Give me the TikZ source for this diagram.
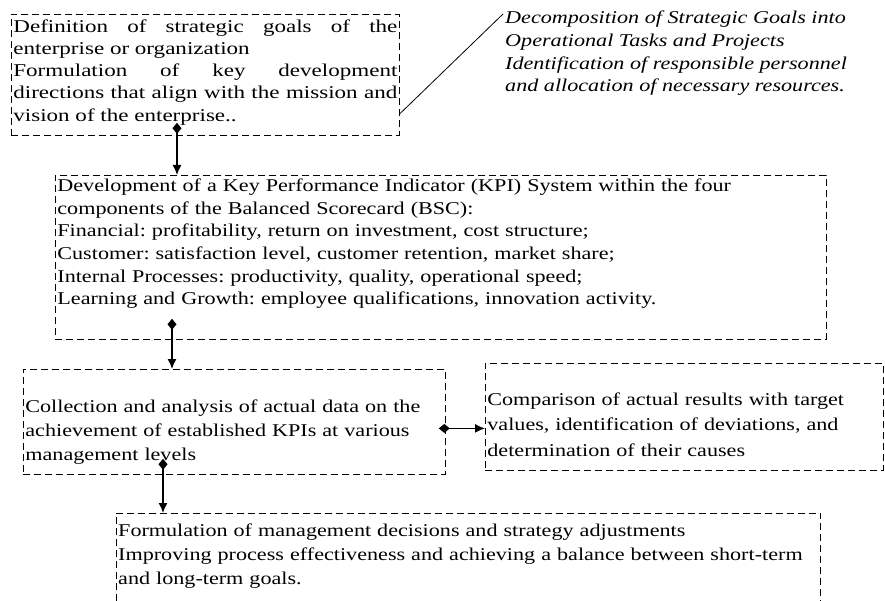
\documentclass[tikz,border=0pt]{standalone}
\usepackage{fontspec}
\setmainfont{Liberation Serif}[FakeStretch=1.23]
\newfontfamily\goalsfont{Liberation Serif}[FakeStretch=1.28]
\usetikzlibrary{arrows.meta}

\tikzset{
	box/.style={draw, dash pattern=on 7pt off 4pt, line width=0.8pt, anchor=north west, inner sep=2pt, align=left},
	link/.style={line width=1.4pt, {Diamond[length=11pt,width=9pt]}-{Latex[length=10pt,width=9pt]}}
}

\begin{document}
\frenchspacing
\begin{tikzpicture}[x=1pt, y=-1pt, font=\fontsize{18}{22.7}\selectfont]
	\useasboundingbox (0,0) rectangle (885,601);
	% Strategic Goals %
	\node (goals) [box, align=justify, text width=384pt, text height=16pt, text depth=101pt, font=\fontsize{18}{22.2}\goalsfont] at (11,14) {Definition of strategic goals of the\linebreak
		enterprise or organization\\
		Formulation of key development\linebreak
		directions that align with the mission and\linebreak
		vision of the enterprise..};
	\node (decomp) [anchor=north west, align=left, inner sep=2pt, font=\fontsize{18}{22.7}\selectfont\itshape] at (503,9) {Decomposition of Strategic Goals into\\
		Operational Tasks and Projects\\
		Identification of responsible personnel\\
		and allocation of necessary resources.};
	\draw [line width=0.8pt] ([yshift=22pt]goals.south east) -- ([yshift=-5pt]decomp.north west);
	% KPI System %
	\node (kpi) [box, text width=767pt, text height=14pt, text depth=146pt] at (55,175) {Development of a Key Performance Indicator (KPI) System within the four\\
		components of the Balanced Scorecard (BSC):\\
		Financial: profitability, return on investment, cost structure;\\
		Customer: satisfaction level, customer retention, market share;\\
		Internal Processes: productivity, quality, operational speed;\\
		Learning and Growth: employee qualifications, innovation activity.};
	% Data Collection %
	\node (collect) [box, text width=418pt, text height=41pt, text depth=60pt, font=\fontsize{18}{24}\selectfont] at (23,369) {Collection and analysis of actual data on the\\
		achievement of established KPIs at various\\
		management levels};
	\node (compare) [box, text width=394pt, text height=40pt, text depth=63pt, font=\fontsize{18}{25.5}\selectfont] at (485,363) {Comparison of actual results with target\\
		values, identification of deviations, and\\
		determination of their causes};
	% Decisions %
	\node (decisions) [anchor=north west, inner sep=2pt, align=left, text width=700pt, text height=21pt, text depth=63pt, font=\fontsize{18}{24}\selectfont] at (116,513) {Formulation of management decisions and strategy adjustments\\
		Improving process effectiveness and achieving a balance between short-term\\
		and long-term goals.};
	\draw [dash pattern=on 7pt off 4pt, line width=0.8pt] (decisions.south west) |- (decisions.north east) -- (decisions.south east);
	% Links %
	\draw [link] ([xshift=166pt,yshift=13pt]goals.south west) -- ([xshift=166pt]goals.south west |- kpi.north);
	\draw [link] ([xshift=117pt,yshift=21pt]kpi.south west) -- ([xshift=117pt]kpi.south west |- collect.north);
	\draw [link] ([xshift=-7pt,yshift=-6.5pt]collect.east) -- ([yshift=-6.5pt]collect.east -| compare.west);
	\draw [link] ([xshift=140pt,yshift=16pt]collect.south west) -- ([xshift=140pt]collect.south west |- decisions.north);
\end{tikzpicture}
\end{document}
